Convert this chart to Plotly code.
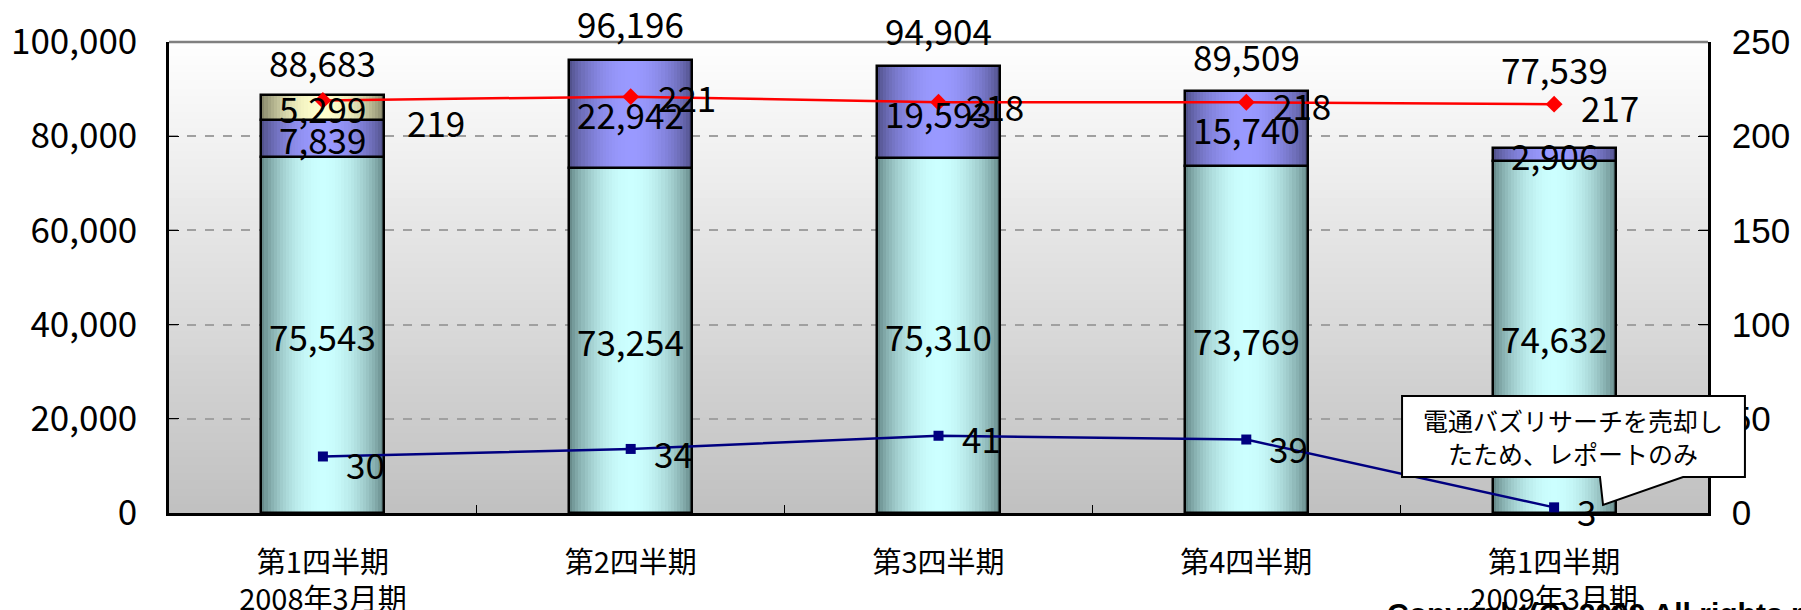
"""Quarterly stacked bars with two line series on a secondary axis."""

import math

import plotly.graph_objects as go

CATEGORIES = [
    "第1四半期<br>2008年3月期",
    "第2四半期",
    "第3四半期",
    "第4四半期",
    "第1四半期<br>2009年3月期",
]
SEG_BASE = [75543, 73254, 75310, 73769, 74632]
SEG_MID = [7839, 22942, 19593, 15740, 2906]
SEG_TOP = [5299, 0, 0, 0, 0]
TOTALS = [88683, 96196, 94904, 89509, 77539]
RED_LINE = [219, 221, 218, 218, 217]
BLUE_LINE = [30, 34, 41, 39, 3]
LEFT_TICKS = [0, 20000, 40000, 60000, 80000, 100000]
RIGHT_TICKS = [0, 50, 100, 150, 200, 250]
NOTE_TEXT = "電通バズリサーチを売却し<br>たため、レポートのみ"
COPYRIGHT = "Copyright(C) 2009 All rights reserved."

JP_FONT = "Noto Sans CJK JP"
BAR_W = 0.4
N_SLICES = 40

# (dark edge, light centre) per stacked segment
SEG_COLORS = [
    ((0x5C, 0x7E, 0x7E), (0xCC, 0xFF, 0xFF)),
    ((0x4A, 0x4A, 0x80), (0x99, 0x99, 0xFF)),
    ((0x7A, 0x7A, 0x60), (0xFF, 0xFF, 0xCC)),
]

# label nudges in pixels (style only)
TOTAL_YSHIFT = [34, 37, 37, 36, 79]
RED_SHIFT = [(82, -21), (25, 0), (25, -3), (25, -2), (25, -2)]
BLUE_SHIFT = [(21, -7), (21, -4), (21, -2), (21, -8), (21, -3)]


def _shade(dark, light, t):
    f = math.sin(math.pi * t) ** 0.7
    return "rgb({},{},{})".format(*[round(d + (l - d) * f) for d, l in zip(dark, light)])


def _add_stack(fig, values, bases, colors):
    vals = [v if v else None for v in values]
    dark, light = colors
    step = BAR_W / N_SLICES
    for i in range(N_SLICES):
        w = step * 2 if i < N_SLICES - 1 else step
        fig.add_trace(
            go.Bar(
                x=CATEGORIES,
                y=vals,
                base=bases,
                width=w,
                offset=-BAR_W / 2 + i * step,
                marker={"color": _shade(dark, light, (i + 0.5) / N_SLICES), "line": {"width": 0}},
                hoverinfo="skip",
                showlegend=False,
            )
        )
    fig.add_trace(
        go.Bar(
            x=CATEGORIES,
            y=vals,
            base=bases,
            width=BAR_W,
            offset=-BAR_W / 2,
            marker={"color": "rgba(0,0,0,0)", "line": {"width": 2.5, "color": "black"}},
            hoverinfo="skip",
            showlegend=False,
        )
    )


fig = go.Figure()

# plot-area gradient (white -> grey)
bands = 60
for k in range(bands):
    g = round(255 - (255 - 192) * (k + 0.5) / bands)
    fig.add_shape(
        type="rect", xref="x domain", yref="y domain",
        x0=0, x1=1, y0=1 - (k + 1) / bands, y1=1 - k / bands + 0.002,
        fillcolor=f"rgb({g},{g},{g})", line={"width": 0}, layer="below",
    )

mid_base = SEG_BASE
top_base = [a + b for a, b in zip(SEG_BASE, SEG_MID)]
_add_stack(fig, SEG_BASE, [0] * len(SEG_BASE), SEG_COLORS[0])
_add_stack(fig, SEG_MID, mid_base, SEG_COLORS[1])
_add_stack(fig, SEG_TOP, top_base, SEG_COLORS[2])

fig.add_trace(
    go.Scatter(
        x=CATEGORIES, y=RED_LINE, yaxis="y2", mode="lines+markers",
        line={"color": "#FF0000", "width": 2.5},
        marker={"symbol": "diamond", "size": 13, "color": "#FF0000"},
        hoverinfo="skip", showlegend=False,
    )
)
fig.add_trace(
    go.Scatter(
        x=CATEGORIES, y=BLUE_LINE, yaxis="y2", mode="lines+markers",
        line={"color": "#000080", "width": 2.5},
        marker={"symbol": "square", "size": 10, "color": "#000080"},
        hoverinfo="skip", showlegend=False,
    )
)

label_font = {"family": JP_FONT, "size": 35, "color": "black"}
for i, cat in enumerate(CATEGORIES):
    fig.add_annotation(x=cat, y=TOTALS[i], text=f"{TOTALS[i]:,}", showarrow=False,
                       yshift=TOTAL_YSHIFT[i], font=label_font)
    fig.add_annotation(x=cat, y=SEG_BASE[i] / 2, text=f"{SEG_BASE[i]:,}", showarrow=False,
                       font=label_font)
    if SEG_MID[i]:
        fig.add_annotation(x=cat, y=SEG_BASE[i] + SEG_MID[i] / 2, text=f"{SEG_MID[i]:,}",
                           showarrow=False, font=label_font)
    if SEG_TOP[i]:
        fig.add_annotation(x=cat, y=top_base[i] + SEG_TOP[i] / 2, text=f"{SEG_TOP[i]:,}",
                           showarrow=False, font=label_font)
    fig.add_annotation(x=cat, y=RED_LINE[i], yref="y2", text=str(RED_LINE[i]), showarrow=False,
                       xanchor="left", xshift=RED_SHIFT[i][0], yshift=RED_SHIFT[i][1],
                       font=label_font)
    fig.add_annotation(x=cat, y=BLUE_LINE[i], yref="y2", text=str(BLUE_LINE[i]), showarrow=False,
                       xanchor="left", xshift=BLUE_SHIFT[i][0], yshift=BLUE_SHIFT[i][1],
                       font=label_font)

# top border of the plot area
fig.add_shape(type="line", xref="x domain", yref="y domain", x0=0, x1=1, y0=1, y1=1,
              line={"color": "#808080", "width": 2.5})

# callout box with a wedge pointing at the last blue point
fig.add_shape(
    type="path", xref="paper", yref="paper",
    path="M 0.8012,0.2484 L 1.0240,0.2484 L 1.0240,0.0764 L 0.9838,0.0764 "
         "L 0.9318,0.0170 L 0.9298,0.0764 L 0.8012,0.0764 Z",
    fillcolor="white", line={"color": "black", "width": 2},
)
fig.add_annotation(xref="paper", yref="paper", x=0.9126, y=0.1624, text=NOTE_TEXT,
                   xanchor="center", yanchor="middle", showarrow=False,
                   font={"family": JP_FONT, "size": 25, "color": "black"})

# footer, mostly cut off by the bottom edge as in the source image
fig.add_annotation(xref="paper", yref="paper", x=0.79, y=-0.175, xanchor="left", yanchor="top",
                   text=f"<b>{COPYRIGHT}</b>", showarrow=False,
                   font={"family": "Liberation Sans", "size": 30, "color": "black"})

fig.update_layout(
    width=1801,
    height=610,
    barmode="overlay",
    bargap=0,
    paper_bgcolor="white",
    plot_bgcolor="rgba(0,0,0,0)",
    margin={"l": 169, "r": 93, "t": 42, "b": 97, "autoexpand": False},
    showlegend=False,
    xaxis={
        "type": "category",
        "range": [-0.5, len(CATEGORIES) - 0.5],
        "automargin": False,
        "showline": True, "linecolor": "black", "linewidth": 2.5,
        "ticks": "inside", "tickson": "boundaries", "ticklen": 8, "tickcolor": "black",
        "showgrid": False,
        "tickfont": {"family": JP_FONT, "size": 29, "color": "black"},
        "ticklabelstandoff": 22,
    },
    yaxis={
        "range": [0, 100000],
        "automargin": False,
        "tickvals": LEFT_TICKS,
        "tickformat": ",",
        "showline": True, "linecolor": "black", "linewidth": 2.5,
        "ticks": "inside", "ticklen": 10, "tickcolor": "black",
        "showgrid": True, "gridcolor": "#a0a0a0", "griddash": "dash", "gridwidth": 1.5,
        "zeroline": False,
        "tickfont": {"family": JP_FONT, "size": 35, "color": "black"},
        "ticklabelstandoff": 22,
    },
    yaxis2={
        "overlaying": "y",
        "side": "right",
        "automargin": False,
        "range": [0, 250],
        "tickvals": RIGHT_TICKS,
        "showline": True, "linecolor": "black", "linewidth": 2.5,
        "ticks": "inside", "ticklen": 10, "tickcolor": "black",
        "showgrid": False, "zeroline": False,
        "tickfont": {"family": "Liberation Sans", "size": 35, "color": "black"},
        "ticklabelstandoff": 14,
    },
)

# the page's default body margin would shift the fixed-size figure
fig.write_html(
    "out.html",
    config={"displayModeBar": False},
    post_script="document.body.style.margin = '0';",
)
